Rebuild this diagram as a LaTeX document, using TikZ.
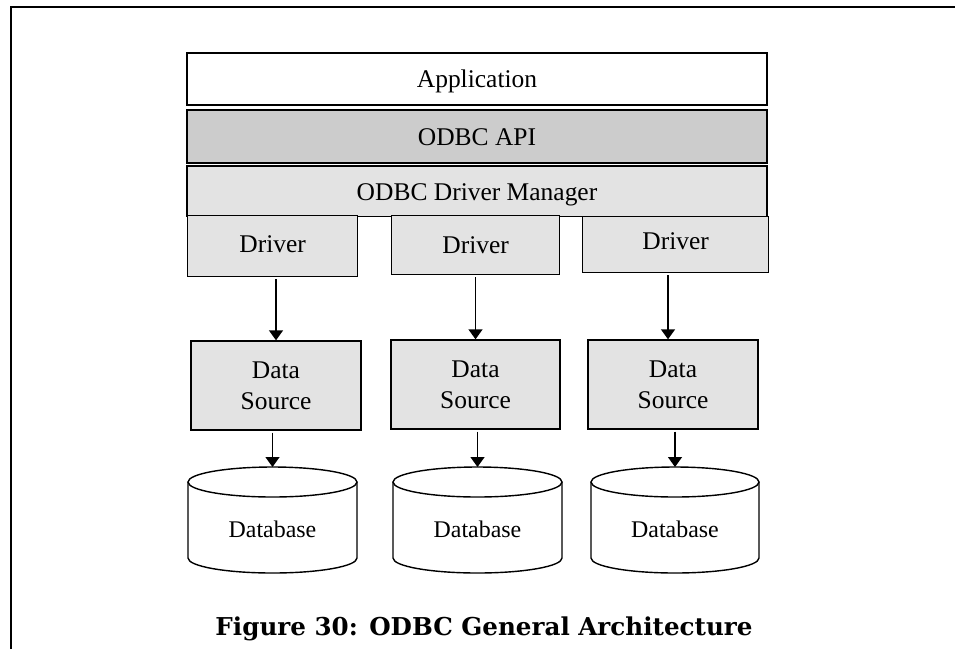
\documentclass[tikz,border=0pt]{standalone}
\usepackage{fontspec}
\setmainfont{Liberation Serif}
\newfontfamily\captionfont{DejaVu Serif}
\usetikzlibrary{arrows.meta,positioning}

\definecolor{apigray}{HTML}{CCCCCC}
\definecolor{boxgray}{HTML}{E3E3E3}

\begin{document}
\begin{tikzpicture}[
  x=0.02cm, y=0.02cm,
  layer/.style={rectangle, draw, line width=0.8pt, inner sep=0pt, minimum width=11.6cm,
    align=center, text height=1em, text depth=0pt, font=\fontsize{14.5}{17.6}\selectfont},
  box/.style={rectangle, draw, line width=0.8pt, fill=boxgray, inner sep=0pt, align=center,
    font=\fontsize{14.5}{17.6}\selectfont},
  dbtext/.style={inner sep=0pt, font=\fontsize{13.6}{16}\selectfont},
  dbline/.style={draw, fill=white, line width=0.8pt},
  arrow/.style={-{Triangle[width=0.28cm, length=0.2cm]}, line width=0.8pt, shorten <=0.04cm},
  caption/.style={font=\captionfont\bfseries\fontsize{14}{16}\selectfont}
]
\useasboundingbox (0,0) rectangle (955,-649);

% frame
\draw[line width=1.1pt] (11,-649) -- (11,-7) -- (955,-7);

% layers
\node[layer, minimum height=1.04cm] (app) at (477,-79) {Application};
\node[layer, fill=apigray, minimum height=1.06cm, below=0.07cm of app] (api) {ODBC API};
\node[layer, fill=boxgray, minimum height=1.02cm, below=0.03cm of api] (mgr) {ODBC Driver Manager};

% drivers
\node[box, anchor=north west, minimum width=3.4cm, minimum height=1.22cm, text depth=0.2em] (d1) at (187,-215) {Driver};
\node[box, anchor=north west, minimum width=3.36cm, minimum height=1.18cm] (d2) at (391,-215) {Driver};
\node[box, anchor=north west, minimum width=3.72cm, minimum height=1.12cm, text depth=0.4em] (d3) at (582,-216) {Driver};

% data sources
\node[box, minimum width=3.4cm, minimum height=1.78cm] (ds1) at (276,-385.5) {Data\\Source};
\node[box, minimum width=3.38cm, minimum height=1.78cm] (ds2) at (475.5,-384.5) {Data\\Source};
\node[box, minimum width=3.4cm, minimum height=1.78cm] (ds3) at (673,-384.5) {Data\\Source};

% databases
\draw[dbline] (188,-482) -- (188,-558) arc[start angle=180, end angle=360, x radius=84.5, y radius=15] -- (357,-482);
\draw[dbline] (272.5,-482) ellipse [x radius=84.5, y radius=15];
\coordinate (db1top) at (272.5,-467);
\node[dbtext] (db1) at (272.5,-529.5) {Database};

\draw[dbline] (393,-482) -- (393,-558) arc[start angle=180, end angle=360, x radius=84.5, y radius=15] -- (562,-482);
\draw[dbline] (477.5,-482) ellipse [x radius=84.5, y radius=15];
\coordinate (db2top) at (477.5,-467);
\node[dbtext] (db2) at (477.5,-529.5) {Database};

\draw[dbline] (591,-482) -- (591,-558) arc[start angle=180, end angle=360, x radius=84, y radius=15] -- (759,-482);
\draw[dbline] (675,-482) ellipse [x radius=84, y radius=15];
\coordinate (db3top) at (675,-467);
\node[dbtext] (db3) at (675,-529.5) {Database};

% connectors
\draw[arrow] (d1.south -| ds1.north) -- (ds1.north);
\draw[arrow] (d2.south -| ds2.north) -- (ds2.north);
\draw[arrow] ([xshift=-0.1cm]d3.south -| ds3.north) -- ([xshift=-0.1cm]ds3.north);
\draw[arrow] (ds1.south -| db1top) -- (db1top);
\draw[arrow] (ds2.south -| db2top) -- (db2top);
\draw[arrow] (ds3.south -| db3top) -- (db3top);

\node[caption, anchor=base] (cap) at (484,-635) {Figure 30: ODBC General Architecture};

\end{tikzpicture}
\end{document}
